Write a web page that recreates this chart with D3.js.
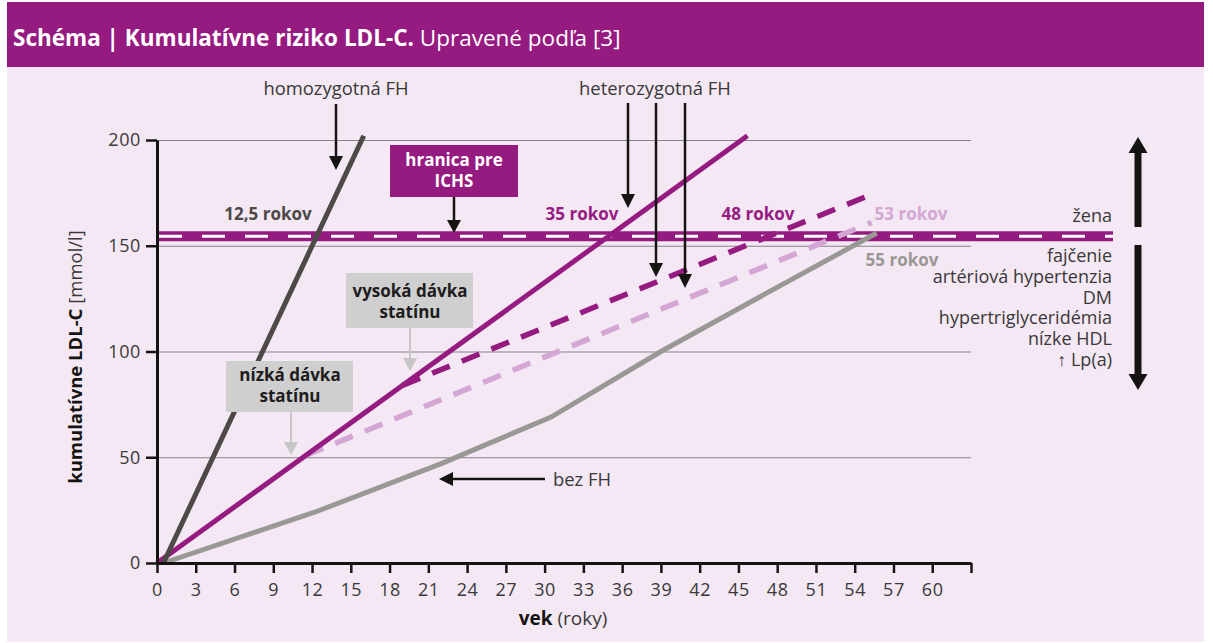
<!DOCTYPE html>
<html>
<head>
<meta charset="utf-8">
<script src="https://cdnjs.cloudflare.com/ajax/libs/d3/7.8.5/d3.min.js"></script>
<style>
	body { margin: 0; background: #ffffff; }
	svg { display: block; font-family: "Open Sans", "Noto Sans", sans-serif; }
</style>
</head>
<body>
<div id="chart"></div>
<script>

// ---DATA---//

var ageTicks = d3.range(0, 64, 3);
var ldlTicks = [ 0, 50, 100, 150, 200 ];

// [age, cumulative LDL-C]
var homozygousFH = [ [ 0.5, 0 ], [ 16, 202 ] ];
var heterozygousFH = [ [ 0, 0 ], [ 45.7, 202 ] ];
var highDoseStatin = [ [ 19, 84 ], [ 55.6, 175 ] ];
var lowDoseStatin = [ [ 11.5, 50.8 ], [ 55.3, 161 ] ];
var noFH = [ [ 0.5, 0 ], [ 12.2, 24 ], [ 22, 47 ], [ 30.5, 69 ], [ 39, 100 ],
		[ 47, 127 ], [ 55.7, 156 ] ];

var ichsThreshold = 154.5;

var thresholdLabels = [ "12,5 rokov", "35 rokov", "48 rokov", "53 rokov", "55 rokov" ];
var riskUp = [ "žena" ];
var riskDown = [ "fajčenie", "artériová hypertenzia", "DM", "hypertriglyceridémia",
		"nízke HDL", "↑ Lp(a)" ];

// ---SETUP---//

var width = 1213;
var height = 643;

var magenta = "#951b81";
var pink = "#d4a6d3";
var grey = "#9a9895";
var darkGrey = "#4d4947";
var black = "#161413";
var textColor = "#3a3838";

var svg = d3.select("#chart").append("svg").attr("width", width).attr(
		"height", height);

// panel + title bar
svg.append("rect").attr("x", 7).attr("y", 2).attr("width", 1197).attr(
		"height", 640).attr("fill", "#f4e8f5");
svg.append("rect").attr("x", 7).attr("y", 2).attr("width", 1197).attr(
		"height", 65).attr("fill", magenta);

var title = svg.append("text").attr("x", 13).attr("y", 46).attr("fill",
		"#ffffff").style("font-size", "22.5px");
title.append("tspan").attr("font-weight", "bold").text(
		"Schéma | Kumulatívne riziko LDL-C.");
title.append("tspan").text(" Upravené podľa [3]");

var x = d3.scaleLinear().domain([ 0, 63 ]).range([ 157, 971 ]);
var y = d3.scaleLinear().domain([ 0, 200 ]).range([ 563, 140 ]);

var line = d3.line().x(function(d) {
	return x(d[0]);
}).y(function(d) {
	return y(d[1]);
});

// ---GRID---//

svg.append("g").attr("class", "grid").selectAll("line").data(
		ldlTicks.slice(1)).enter().append("line") //
.attr("x1", x(0)).attr("x2", x(63)) //
.attr("y1", function(d) {
	return y(d) + 0.5;
}).attr("y2", function(d) {
	return y(d) + 0.5;
}) //
.attr("stroke", "#858385").attr("stroke-width", 1);

// ---ICHS THRESHOLD BAND---//

var bandY = y(ichsThreshold);
svg.append("line").attr("x1", x(0)).attr("x2", 1113).attr("y1", bandY)
		.attr("y2", bandY).attr("stroke", magenta).attr("stroke-width", 10);
svg.append("line").attr("x1", x(0)).attr("x2", 1113).attr("y1", bandY)
		.attr("y2", bandY).attr("stroke", "#ffffff").attr("stroke-width", 3)
		.attr("stroke-dasharray", "23,20").attr("stroke-dashoffset", -2);

// ---SERIES---//

var series = [ {
	data : noFH,
	color : grey,
	dash : null
}, {
	data : lowDoseStatin,
	color : pink,
	dash : "19,13"
}, {
	data : highDoseStatin,
	color : magenta,
	dash : "19,13"
}, {
	data : heterozygousFH,
	color : magenta,
	dash : null
}, {
	data : homozygousFH,
	color : darkGrey,
	dash : null
} ];

svg.append("g").attr("class", "series").selectAll("path").data(series)
		.enter().append("path") //
		.attr("d", function(d) {
			return line(d.data);
		}) //
		.attr("fill", "none") //
		.attr("stroke", function(d) {
			return d.color;
		}) //
		.attr("stroke-width", function(d) {
			return d.dash ? 5.5 : 5;
		}) //
		.attr("stroke-dasharray", function(d) {
			return d.dash;
		});

// ---AXES---//

var xAxis = d3.axisBottom(x).tickValues(ageTicks).tickSize(10)
		.tickSizeOuter(0).tickFormat(function(d) {
			return d <= 60 ? d : "";
		});

var yAxis = d3.axisLeft(y).tickValues(ldlTicks).tickSize(11).tickSizeOuter(0);

var gx = svg.append("g").attr("transform", "translate(0," + y(0) + ")").call(
		xAxis);
var gy = svg.append("g").attr("transform", "translate(" + x(0) + ",0)").call(
		yAxis);

[ gx, gy ].forEach(function(g) {
	g.select(".domain").attr("stroke", black).attr("stroke-width", 3);
	g.selectAll(".tick line").attr("stroke", black).attr("stroke-width", 2.5);
	g.selectAll(".tick text").attr("fill", textColor).style("font-size",
			"18px").style("font-family", "Open Sans").style("letter-spacing",
			"0.6px");
});
gx.selectAll(".tick text").attr("dy", "0").attr("y", 33);
gy.selectAll(".tick text").attr("x", -16);

// axis titles
var yTitle = svg.append("text").attr("transform",
		"translate(82," + 357 + ") rotate(-90)").attr("text-anchor", "middle")
		.attr("fill", black).style("font-size", "18.5px");
yTitle.append("tspan").attr("font-weight", "bold").text("kumulatívne LDL-C");
yTitle.append("tspan").attr("fill", textColor).text(" [mmol/l]");

var xTitle = svg.append("text").attr("x", 563).attr("y", 625).attr(
		"text-anchor", "middle").attr("fill", black).style("font-size", "19px");
xTitle.append("tspan").attr("font-weight", "bold").text("vek");
xTitle.append("tspan").attr("fill", textColor).text(" (roky)");

// ---ANNOTATIONS---//

function arrow(x1, y1, x2, y2, color, sw, headW, headL) {
	var dx = x2 - x1, dy = y2 - y1;
	var len = Math.sqrt(dx * dx + dy * dy);
	var ux = dx / len, uy = dy / len;
	var bx = x2 - ux * headL, by = y2 - uy * headL;
	svg.append("line").attr("x1", x1).attr("y1", y1).attr("x2", bx + ux).attr(
			"y2", by + uy).attr("stroke", color).attr("stroke-width", sw);
	svg.append("path").attr(
			"d",
			"M" + x2 + "," + y2 + "L" + (bx - uy * headW / 2) + ","
					+ (by + ux * headW / 2) + "L" + (bx + uy * headW / 2)
					+ "," + (by - ux * headW / 2) + "Z").attr("fill", color);
}// END: arrow

function label(tx, ty, lines, opts) {
	var t = svg.append("text").attr("x", tx).attr("y", ty).attr("text-anchor",
			opts.anchor || "middle").attr("fill", opts.color || textColor)
			.attr("font-weight", opts.bold ? "bold" : "normal").style(
					"font-size", (opts.size || 17) + "px");
	lines.forEach(function(l, i) {
		t.append("tspan").attr("x", tx).attr("dy", i === 0 ? 0 : opts.lh || 21)
				.text(l);
	});
	return t;
}// END: label

// homozygous FH
label(336, 95, [ "homozygotná FH" ], {
	size : 18.4
});
arrow(336, 104, 336, 170, black, 2.5, 14, 14);

// heterozygous FH
label(655, 95, [ "heterozygotná FH" ], {
	size : 18.4
});
arrow(628, 103, 628, 208, black, 2.5, 14, 14);
arrow(656, 103, 656, 277, black, 2.5, 14, 14);
arrow(685, 103, 685, 288, black, 2.5, 14, 14);

// ICHS box
svg.append("rect").attr("x", 390).attr("y", 145).attr("width", 128).attr(
		"height", 52).attr("fill", magenta);
label(454, 166, [ "hranica pre", "ICHS" ], {
	bold : true,
	color : "#ffffff",
	lh : 21
});
arrow(454, 197, 454, 233, black, 2.5, 14, 13);

// statin boxes
svg.append("rect").attr("x", 346).attr("y", 273).attr("width", 127).attr(
		"height", 55).attr("fill", "#cfcfcf");
label(410, 297, [ "vysoká dávka", "statínu" ], {
	bold : true,
	color : "#1e1c1c",
	lh : 21
});
arrow(410, 328, 410, 371, "#c6c6c6", 2, 14, 13);

svg.append("rect").attr("x", 226).attr("y", 361).attr("width", 127).attr(
		"height", 51).attr("fill", "#cfcfcf");
label(290, 381, [ "nízká dávka", "statínu" ], {
	bold : true,
	color : "#1e1c1c",
	lh : 21
});
arrow(291, 412, 291, 455, "#c6c6c6", 2, 14, 13);

// no FH
label(553, 486, [ "bez FH" ], {
	anchor : "start",
	size : 18.4
});
arrow(545, 479, 439, 479, black, 2.5, 14, 14);

// threshold ages
var ageLabelColors = [ darkGrey, magenta, magenta, pink, grey ];
var ageLabelPos = [ [ 268, 220 ], [ 582, 220 ], [ 758, 220 ], [ 911, 220 ],
		[ 902, 266 ] ];
thresholdLabels.forEach(function(l, i) {
	label(ageLabelPos[i][0], ageLabelPos[i][1], [ l ], {
		bold : true,
		color : ageLabelColors[i]
	});
});

// risk factors
label(1112, 222, riskUp, {
	anchor : "end",
	size : 18
});
label(1112, 262, riskDown, {
	anchor : "end",
	size : 18,
	lh : 20.8
});
arrow(1138, 227, 1138, 137, black, 7, 19, 16);
arrow(1138, 245, 1138, 390, black, 7, 19, 16);

</script>
</body>
</html>
